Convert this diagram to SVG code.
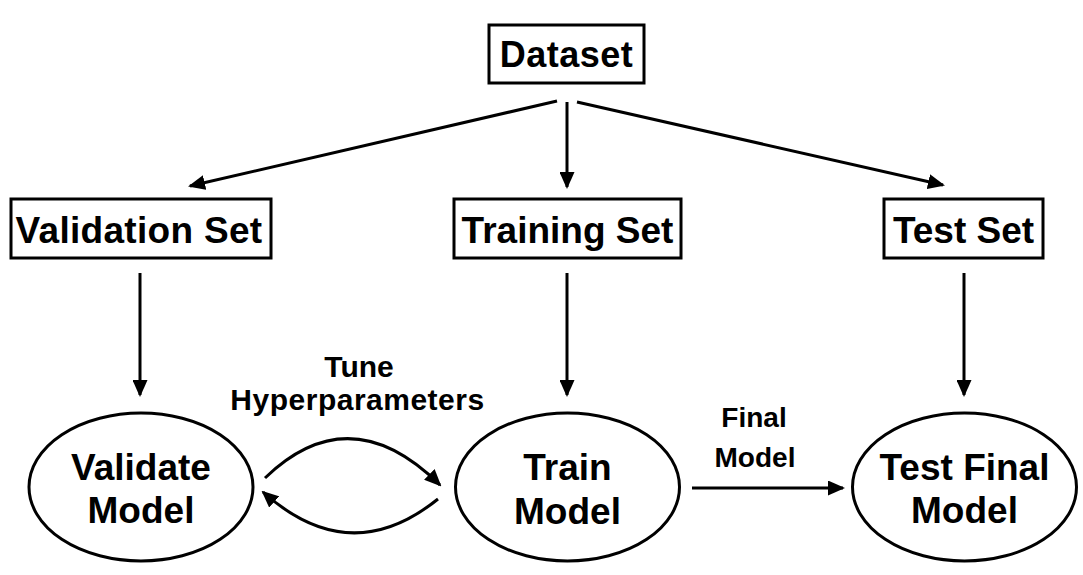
<svg xmlns="http://www.w3.org/2000/svg" width="1083" height="575" viewBox="0 0 1083 575">
<style>
.box{fill:#fff;stroke:#000;stroke-width:3}
.ell{fill:#fff;stroke:#000;stroke-width:3}
.t{font-family:"Liberation Sans",Arial,sans-serif;font-weight:bold;fill:#000;text-anchor:middle}
.big{font-size:37px}
.mid{font-size:30px}
.sm{font-size:28px}
.c{fill:none;stroke:#000;stroke-width:3;marker-end:url(#ah)}
</style>
<defs>
<marker id="ah" markerUnits="userSpaceOnUse" markerWidth="17" markerHeight="15" refX="15" refY="7.5" orient="auto">
<path d="M0,0 L17,7.5 L0,15 z" fill="#000"/>
</marker>
</defs>
<rect width="1083" height="575" fill="#fff"/>
<g id="connectors">
<line class="c" x1="557" y1="101" x2="190" y2="186"/>
<line class="c" x1="567" y1="102" x2="567" y2="187"/>
<line class="c" x1="577" y1="102" x2="943" y2="185"/>
<line class="c" x1="140" y1="273" x2="140" y2="395"/>
<line class="c" x1="567" y1="273" x2="567" y2="395"/>
<line class="c" x1="964" y1="273" x2="964" y2="395"/>
<line class="c" x1="692" y1="488" x2="843" y2="488"/>
<path class="c" d="M265,478 Q350,396 440,485"/>
<path class="c" d="M438,499 Q350,570 263,492"/>
<text class="t mid" x="359" y="377">Tune</text>
<text class="t mid" x="357.5" y="410" letter-spacing="0.5">Hyperparameters</text>
<text class="t sm" x="754" y="427">Final</text>
<text class="t sm" x="755" y="467">Model</text>
</g>
<g id="dataset">
<rect class="box" x="489" y="25" width="155" height="58"/>
<text class="t" style="font-size:36px" x="566.5" y="67" letter-spacing="0.5">Dataset</text>
</g>
<g id="validation-set">
<rect class="box" x="11" y="199" width="260" height="59"/>
<text class="t big" x="139" y="243" letter-spacing="0.3">Validation Set</text>
</g>
<g id="training-set">
<rect class="box" x="454" y="199" width="227" height="59"/>
<text class="t big" x="567.5" y="243">Training Set</text>
</g>
<g id="test-set">
<rect class="box" x="884" y="199" width="159" height="59"/>
<text class="t big" x="963.5" y="243">Test Set</text>
</g>
<g id="validate-model">
<ellipse class="ell" cx="141" cy="487" rx="112" ry="74"/>
<text class="t big" x="141" y="480">Validate</text>
<text class="t big" x="141" y="523">Model</text>
</g>
<g id="train-model">
<ellipse class="ell" cx="567.5" cy="487" rx="112" ry="74"/>
<text class="t big" x="567.5" y="480">Train</text>
<text class="t big" x="567.5" y="524">Model</text>
</g>
<g id="test-final-model">
<ellipse class="ell" cx="964.5" cy="487" rx="112" ry="74"/>
<text class="t big" x="964.5" y="480">Test Final</text>
<text class="t big" x="964.5" y="523">Model</text>
</g>
</svg>
